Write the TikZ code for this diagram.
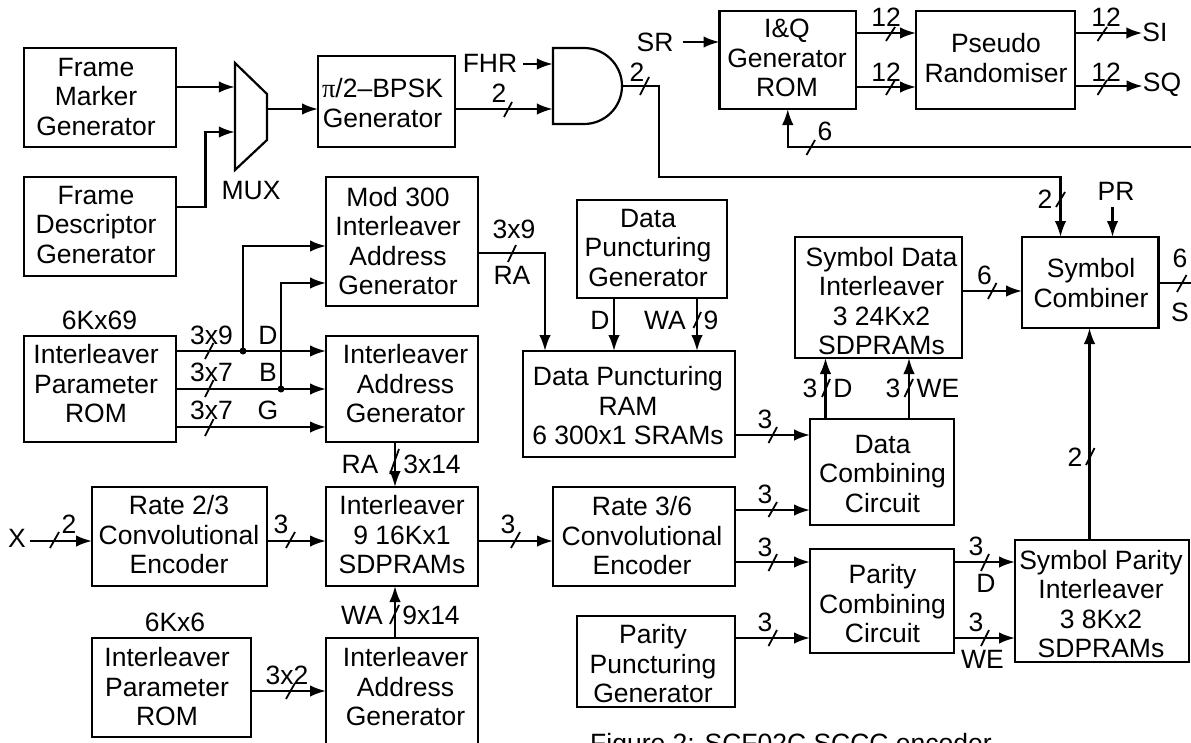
\documentclass[tikz,border=0pt]{standalone}
\usepackage{fontspec}
\setmainfont{Liberation Sans}
\newfontfamily\pifont{Liberation Serif}
\usetikzlibrary{arrows.meta}
\tikzset{
  blk/.style={draw, line width=2.2pt, inner sep=0pt, outer sep=0pt},
  txt/.style={inner sep=0pt, align=center},
  lbl/.style={inner sep=0pt},
  sig/.style={line width=2.2pt, -{Latex[length=16pt,width=11.5pt]}},
  wire/.style={line width=2.2pt},
  tick/.style={line width=1.8pt}
}
\begin{document}
\begin{tikzpicture}[x=1pt,y=-1pt,font=\fontsize{26.5}{29.5}\selectfont]
  \useasboundingbox (0,0) rectangle (1191,742);
  \clip (0,0) rectangle (1191,742);
  % Blocos da parte superior
  \node[blk, minimum width=152, minimum height=99] (frmk) at (100,97.5) {};
  \node[txt] (frmkt) at (96,97) {Frame\\Marker\\Generator};
  \node[blk, minimum width=152, minimum height=99] (frds) at (100,226.5) {};
  \node[txt] (frdst) at (96,225) {Frame\\Descriptor\\Generator};
  \node[blk, minimum width=137, minimum height=91] (bpsk) at (386.5,101.5) {};
  \node[txt] (bpskt) at (382.5,103) {{\pifont π}/2--BPSK\\Generator};
  \node[blk, minimum width=136.5, minimum height=98] (iqrom) at (787.75,60) {};
  \node[txt] (iqromt) at (787,58) {I\&Q\\Generator\\ROM};
  \node[blk, minimum width=159, minimum height=98] (prnd) at (995.5,60) {};
  \node[txt] (prndt) at (996,58) {Pseudo\\Randomiser};
  % Multiplexador e porta AND
  \node[minimum width=32, minimum height=107, inner sep=0pt] (mux) at (251,116.5) {};
  \draw[wire, line join=miter] (235,63) -- (267,94) -- (267,140) -- (235,170) -- cycle;
  \node[minimum width=69, minimum height=76, inner sep=0pt] (andg) at (587.5,86) {};
  \draw[wire] (584,48) -- (553,48) -- (553,124) -- (584,124) arc[start angle=270, end angle=450, x radius=38, y radius=-38];
  % Entrelacadores
  \node[blk, minimum width=152, minimum height=129] (modg) at (402,241.5) {};
  \node[txt] (modgt) at (398,241) {Mod 300\\Interleaver\\Address\\Generator};
  \node[blk, minimum width=152, minimum height=106] (prom) at (100,389) {};
  \node[txt] (promt) at (96,384) {Interleaver\\Parameter\\ROM};
  \node[blk, minimum width=152, minimum height=106] (iagu) at (402,389) {};
  \node[txt] (iagut) at (405.5,384) {Interleaver\\Address\\Generator};
  \node[blk, minimum width=152, minimum height=99] (ilvr) at (402,536.5) {};
  \node[txt] (ilvrt) at (402,535) {Interleaver\\9 16Kx1\\SDPRAMs};
  \node[blk, minimum width=175, minimum height=99] (cvab) at (179.5,536.5) {};
  \node[txt] (cvabt) at (179,535) {Rate 2/3\\Convolutional\\Encoder};
  \node[blk, minimum width=159, minimum height=99] (pro2) at (171.5,687.5) {};
  \node[txt] (pro2t) at (167,687) {Interleaver\\Parameter\\ROM};
  \node[blk, minimum width=152, minimum height=108] (iagd) at (402,692) {};
  \node[txt] (iagdt) at (405.5,687) {Interleaver\\Address\\Generator};
  % Puncao e combinacao
  \node[blk, minimum width=150, minimum height=98] (dpgn) at (652,249) {};
  \node[txt] (dpgnt) at (648,248) {Data\\Puncturing\\Generator};
  \node[blk, minimum width=212, minimum height=106] (dram) at (629,404) {};
  \node[txt] (dramt) at (628,406) {Data Puncturing\\RAM\\6 300x1 SRAMs};
  \node[blk, minimum width=182, minimum height=99] (cvcd) at (644,536.5) {};
  \node[txt] (cvcdt) at (642,536) {Rate 3/6\\Convolutional\\Encoder};
  \node[blk, minimum width=158, minimum height=91] (ppgn) at (656,661.5) {};
  \node[txt] (ppgnt) at (653,664) {Parity\\Puncturing\\Generator};
  \node[blk, minimum width=144, minimum height=106] (dcmb) at (882,472) {};
  \node[txt] (dcmbt) at (882.5,474) {Data\\Combining\\Circuit};
  \node[blk, minimum width=144, minimum height=104] (pcmb) at (882,601) {};
  \node[txt] (pcmbt) at (882.5,604) {Parity\\Combining\\Circuit};
  \node[blk, minimum width=167, minimum height=121] (sdil) at (878.5,297.5) {};
  \node[txt] (sdilt) at (881.5,301) {Symbol Data\\Interleaver\\3 24Kx2\\SDPRAMs};
  \node[blk, minimum width=174, minimum height=122] (spil) at (1102,601) {};
  \node[txt] (spilt) at (1101,604) {Symbol Parity\\Interleaver\\3 8Kx2\\SDPRAMs};
  \node[blk, minimum width=136.5, minimum height=91] (scmb) at (1090.25,282.5) {};
  \node[txt] (scmbt) at (1091,283) {Symbol\\Combiner};
  % Rotulos de texto livres
  \node[lbl] (tfhr) at (490,63) {FHR};
  \node[lbl] (tsr) at (655,42) {SR};
  \node[lbl] (tpr) at (1116,191) {PR};
  \node[lbl] (tx) at (17,538) {X};
  \node[lbl] (tmux) at (251,191) {MUX};
  \node[lbl] (tsi) at (1155,32) {SI};
  \node[lbl] (tsq) at (1162,85) {SQ};
  \coordinate (rgt1) at (1191,147);
  \coordinate (rgt2) at (1191,283);
  % Entradas e saidas do topo
  \draw[sig] (frmk.east |- 0,87) -- (mux.west |- 0,87);
  \draw[sig] (frds.east |- 0,207) -| (205.5,132) -- (mux.west |- 0,132);
  \draw[sig] (mux.east |- 0,109) -- (bpsk.west |- 0,109);
  \draw[sig] (tfhr.east |- 0,64) ++(6,0) -- (andg.west |- 0,64);
  \draw[sig] (bpsk.east |- 0,109) -- (andg.west |- 0,109);
  \draw[sig] (tsr.east |- 0,42) ++(9,0) -- (iqrom.west |- 0,42);
  \draw[sig] (iqrom.east |- 0,33) -- (prnd.west |- 0,33);
  \draw[sig] (iqrom.east |- 0,87) -- (prnd.west |- 0,87);
  \draw[sig] (prnd.east |- 0,33) -- (tsi.west |- 0,33);
  \draw[sig] (prnd.east |- 0,86) -- (tsq.west |- 0,86);
  \draw[sig] (rgt1) -| (iqrom.south);
  \draw[sig] (andg.east) -- (659,86) -- (659,177) -- (1060.5,177) -- (scmb.north -| 1060.5,0);
  \draw[sig] (tpr.south -| 1112.5,0) ++(0,7) -- (scmb.north -| 1112.5,0);
  % Interleaver de cima
  \draw[sig] (prom.east |- 0,351) -- (iagu.west |- 0,351);
  \draw[sig] (prom.east |- 0,389) -- (iagu.west |- 0,389);
  \draw[sig] (prom.east |- 0,427) -- (iagu.west |- 0,427);
  \fill (243,351) circle[radius=3.5];
  \fill (281,389) circle[radius=3.5];
  \draw[sig] (243,351) |- (modg.west |- 0,246);
  \draw[sig] (281,389) |- (modg.west |- 0,283);
  \draw[sig] (modg.east |- 0,253) -| (dram.north -| 545,0);
  \draw[sig] (dpgn.south -| 614,0) -- (dram.north -| 614,0);
  \draw[sig] (dpgn.south -| 697,0) -- (dram.north -| 697,0);
  \draw[sig] (iagu.south -| 395,0) -- (ilvr.north -| 395,0);
  \draw[sig] (iagd.north -| 395,0) -- (ilvr.south -| 395,0);
  \draw[sig] (pro2.east |- 0,691) -- (iagd.west |- 0,691);
  \draw[sig] (tx.east |- 0,541) ++(4,0) -- (cvab.west |- 0,541);
  \draw[sig] (cvab.east |- 0,541) -- (ilvr.west |- 0,541);
  \draw[sig] (ilvr.east |- 0,541) -- (cvcd.west |- 0,541);
  % Combinacao
  \draw[sig] (dram.east |- 0,435) -- (dcmb.west |- 0,435);
  \draw[sig] (cvcd.east |- 0,510) -- (dcmb.west |- 0,510);
  \draw[sig] (cvcd.east |- 0,562) -- (pcmb.west |- 0,562);
  \draw[sig] (ppgn.east |- 0,638) -- (pcmb.west |- 0,638);
  \draw[sig] (dcmb.north -| 825.5,0) -- (sdil.south -| 825.5,0);
  \draw[sig] (dcmb.north -| 909,0) -- (sdil.south -| 909,0);
  \draw[sig] (pcmb.east |- 0,562) -- (spil.west |- 0,562);
  \draw[sig] (pcmb.east |- 0,638) -- (spil.west |- 0,638);
  \draw[sig] (sdil.east |- 0,291) -- (scmb.west |- 0,291);
  \draw[sig] (spil.north -| 1089.5,0) -- (scmb.south -| 1089.5,0);
  \draw[wire] (scmb.east |- rgt2) -- (rgt2);
  % Marcas de barramento
  \draw[tick] (504,117) -- (512,102);
  \draw[tick] (640,95) -- (649,77);
  \draw[tick] (886,41) -- (895,27);
  \draw[tick] (886,95) -- (895,80);
  \draw[tick] (1097.5,41) -- (1107,27);
  \draw[tick] (1097.5,95) -- (1107,80);
  \draw[tick] (806.5,155) -- (815,140);
  \draw[tick] (1056,207) -- (1065,192);
  \draw[tick] (1177,292) -- (1186.5,275);
  \draw[tick] (988,299) -- (996.5,283);
  \draw[tick] (693.5,328) -- (701,312);
  \draw[tick] (508,262) -- (516,245);
  \draw[tick] (205,359) -- (213.5,343);
  \draw[tick] (205,397) -- (213.5,380);
  \draw[tick] (205,436) -- (213.5,419);
  \draw[tick] (390,474) -- (399,449);
  \draw[tick] (50,548) -- (59,532);
  \draw[tick] (286,548) -- (295,532);
  \draw[tick] (511,548) -- (520,532);
  \draw[tick] (390,624) -- (399,605);
  \draw[tick] (286,699) -- (295,683);
  \draw[tick] (768.5,443) -- (777,427);
  \draw[tick] (768.5,517) -- (777,502);
  \draw[tick] (768.5,571) -- (777,554);
  \draw[tick] (768.5,646) -- (777,630);
  \draw[tick] (822,397) -- (830,379);
  \draw[tick] (904.5,397) -- (913,379);
  \draw[tick] (981,571) -- (989,554);
  \draw[tick] (981,646) -- (989,630);
  \draw[tick] (1086,465) -- (1094.5,448);
  % Rotulos dos barramentos
  \node[lbl] (b01) at (499,93) {2};
  \node[lbl] (b02) at (637,72) {2};
  \node[lbl] (b03) at (886,17) {12};
  \node[lbl] (b04) at (886,72) {12};
  \node[lbl] (b05) at (1106,17) {12};
  \node[lbl] (b06) at (1106,72) {12};
  \node[lbl] (b07) at (825,131) {6};
  \node[lbl] (b08) at (1045,199) {2};
  \node[lbl] (b09) at (1180,258) {6};
  \node[lbl] (b10) at (1180,312) {S};
  \node[lbl] (b11) at (984.5,275) {6};
  \node[lbl] (b12) at (514,229) {3x9};
  \node[lbl] (b13) at (512,275) {RA};
  \node[lbl] (b14) at (600,320) {D};
  \node[lbl] (b15) at (665,320) {WA};
  \node[lbl] (b16) at (711,320) {9};
  \node[lbl] (b17) at (99.5,320) {6Kx69};
  \node[lbl] (b18) at (211.5,335) {3x9};
  \node[lbl] (b19) at (268,335) {D};
  \node[lbl] (b20) at (211.5,372) {3x7};
  \node[lbl] (b21) at (268,372) {B};
  \node[lbl] (b22) at (211.5,410) {3x7};
  \node[lbl] (b23) at (268,410) {G};
  \node[lbl] (b24) at (360,464) {RA};
  \node[lbl] (b25) at (432,464) {3x14};
  \node[lbl] (b26) at (69,524) {2};
  \node[lbl] (b27) at (281,524) {3};
  \node[lbl] (b28) at (508,524) {3};
  \node[lbl] (b29) at (175,622) {6Kx6};
  \node[lbl] (b30) at (362,615) {WA};
  \node[lbl] (b31) at (431,615) {9x14};
  \node[lbl] (b32) at (287,675) {3x2};
  \node[lbl] (b33) at (765,419) {3};
  \node[lbl] (b34) at (765,494) {3};
  \node[lbl] (b35) at (765,547) {3};
  \node[lbl] (b36) at (765,622) {3};
  \node[lbl] (b37) at (810,388) {3};
  \node[lbl] (b38) at (843,388) {D};
  \node[lbl] (b39) at (893,388) {3};
  \node[lbl] (b40) at (938,388) {WE};
  \node[lbl] (b41) at (976,546) {3};
  \node[lbl] (b42) at (986,583) {D};
  \node[lbl] (b43) at (976,622) {3};
  \node[lbl] (b44) at (982.5,659) {WE};
  \node[lbl] (b45) at (1075,457) {2};
  % Legenda
  \node[lbl, anchor=base west] (capt) at (590,752) {Figure 2: SCF02C SCCC encoder};
\end{tikzpicture}
\end{document}
